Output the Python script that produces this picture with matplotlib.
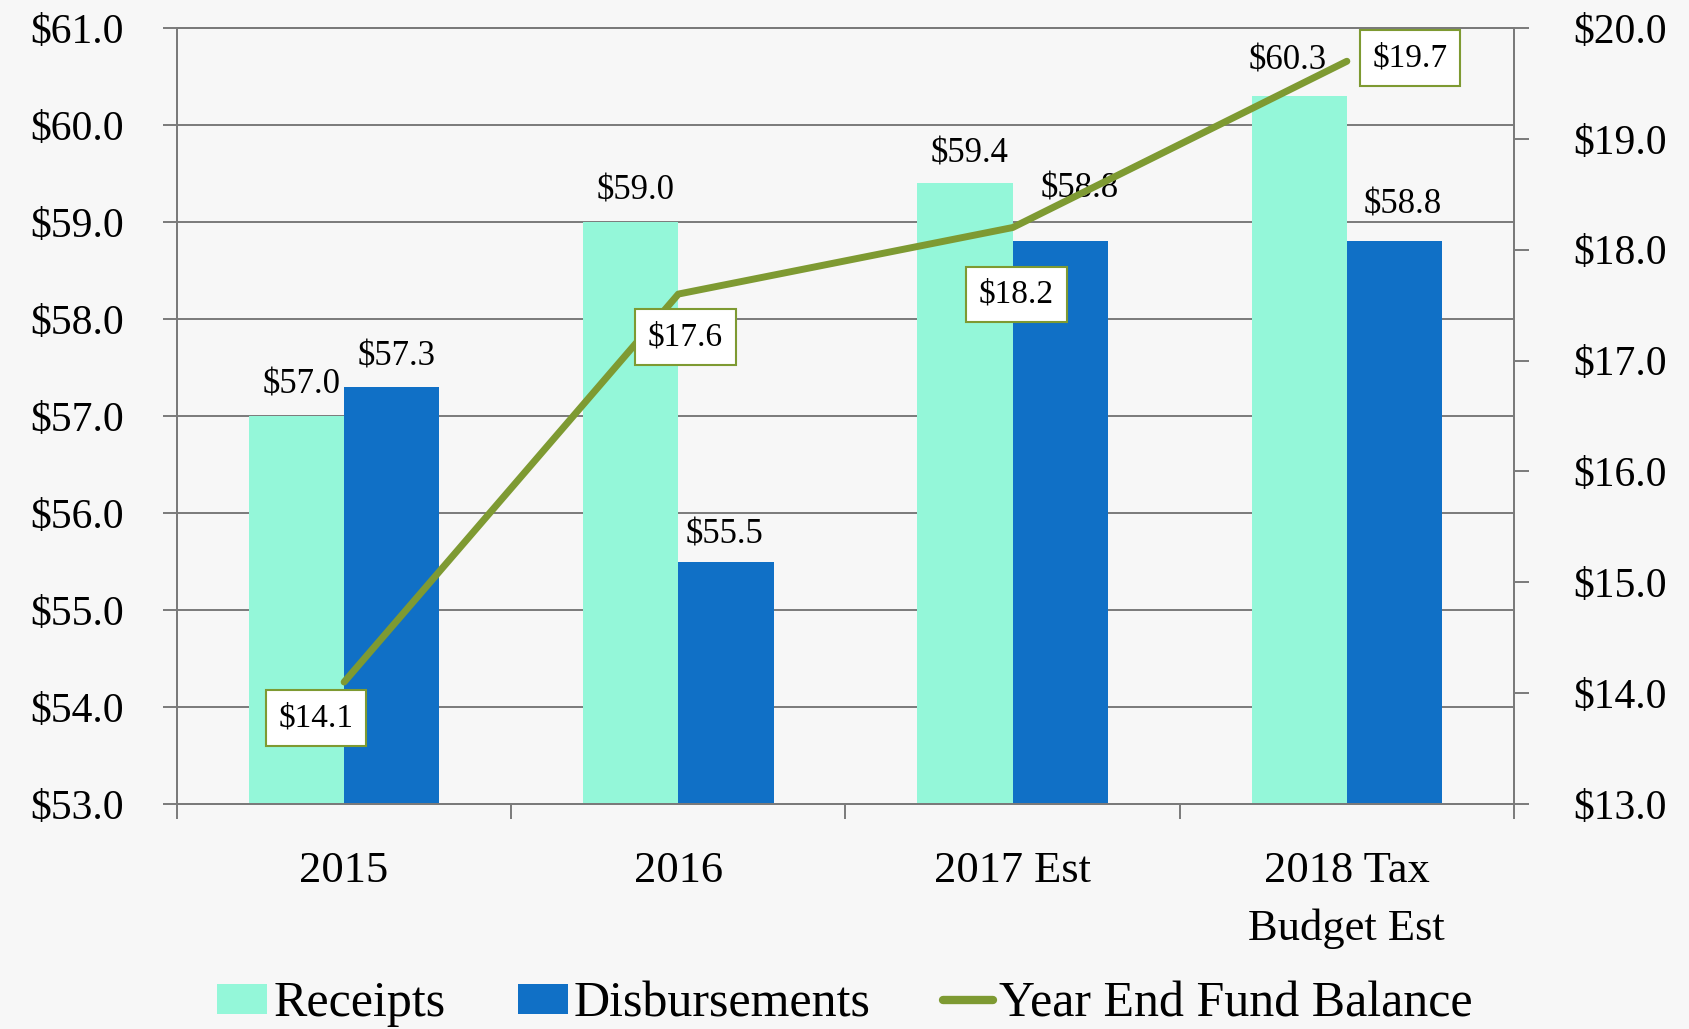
import matplotlib
matplotlib.use("Agg")
import matplotlib.pyplot as plt
import numpy as np

categories = ["2015", "2016", "2017 Est", "2018 Tax\nBudget Est"]
receipts = [57.0, 59.0, 59.4, 60.3]
disbursements = [57.3, 55.5, 58.8, 58.8]
fund_balance = [14.1, 17.6, 18.2, 19.7]
left_ticks = [53.0, 54.0, 55.0, 56.0, 57.0, 58.0, 59.0, 60.0, 61.0]
right_ticks = [13.0, 14.0, 15.0, 16.0, 17.0, 18.0, 19.0, 20.0]

# styles / placements (pixels)
rec_label_off = [(5, 31), (5, 31), (5, 29), (-12, 35)]
dis_label_off = [(5, 30), (-2, 27), (19, 52), (8, 36)]
bal_label_off = [(-28, -36), (7, -43), (4, -67), (63, 3)]

C_REC = "#94F7D9"
C_DIS = "#1070C6"
C_LINE = "#7E9A32"
GRID = "#7a7a7a"
BG = "#f7f7f7"
FONT = "Liberation Serif"

plt.rcParams["font.family"] = [FONT, "DejaVu Serif"]

fig = plt.figure(figsize=(16.9, 10.29), dpi=100, facecolor=BG)
ax = fig.add_axes([177 / 1690, 1 - 804 / 1029, (1514 - 177) / 1690, (804 - 28) / 1029])
ax.set_facecolor("none")
ax2 = ax.twinx()

x = np.arange(len(categories))
bw = 0.285
b1 = ax.bar(x - bw / 2, [r - 53 for r in receipts], bw, bottom=53, color=C_REC, zorder=2, label="Receipts")
b2 = ax.bar(x + bw / 2, [d - 53 for d in disbursements], bw, bottom=53, color=C_DIS, zorder=2, label="Disbursements")

ax.set_xlim(-0.5, len(categories) - 0.5)
ax.set_ylim(53, 61)
ax.set_yticks(left_ticks)
ax.set_yticklabels([f"${v:.1f}" for v in left_ticks], fontsize=30)
ax.yaxis.grid(True, color=GRID, linewidth=1.4, zorder=0)
ax.set_axisbelow(True)
ax.tick_params(axis="y", direction="out", length=10, width=1.4, color=GRID, pad=28)

ax.set_xticks(x)
ax.set_xticklabels(categories, fontsize=32, linespacing=1.55, va="top")
ax.tick_params(axis="x", which="major", length=0, pad=34)
ax.set_xticks(np.arange(-0.5, len(categories)), minor=True)
ax.tick_params(axis="x", which="minor", direction="out", length=11, width=1.4, color=GRID)

for s in ["left", "right", "bottom", "top"]:
    ax.spines[s].set_color(GRID)
    ax.spines[s].set_linewidth(1.4)
    ax2.spines[s].set_color(GRID)
    ax2.spines[s].set_linewidth(1.4)

for i, v in enumerate(receipts):
    ax.annotate(f"${v:.1f}", (x[i] - bw / 2, v), xytext=rec_label_off[i], textcoords="offset pixels",
                ha="center", va="center", fontsize=25, zorder=3)
for i, v in enumerate(disbursements):
    ax.annotate(f"${v:.1f}", (x[i] + bw / 2, v), xytext=dis_label_off[i], textcoords="offset pixels",
                ha="center", va="center", fontsize=25, zorder=3)

ax2.set_ylim(13, 20)
ax2.set_yticks(right_ticks)
ax2.set_yticklabels([f"${v:.1f}" for v in right_ticks], fontsize=30)
ax2.tick_params(axis="y", direction="out", length=11, width=1.4, color=GRID, pad=32)
ln, = ax2.plot(x, fund_balance, color=C_LINE, linewidth=5, solid_capstyle="round",
               solid_joinstyle="round", zorder=5, label="Year End Fund Balance")
for i, v in enumerate(fund_balance):
    ax2.annotate(f"${v:.1f}", (x[i], v), xytext=bal_label_off[i], textcoords="offset pixels",
                 ha="center", va="center", fontsize=24, zorder=6,
                 bbox=dict(boxstyle="square,pad=0.38", fc="white", ec=C_LINE, lw=1.5))

leg = fig.legend(handles=[b1, b2, ln], loc="center", bbox_to_anchor=(0.5, 1 - 1004 / 1029),
                 ncol=3, frameon=False, fontsize=36, handlelength=1.0, handleheight=0.55,
                 handletextpad=0.12, columnspacing=1.45, borderaxespad=0)
for l in leg.get_lines():
    l.set_linewidth(6)

fig.savefig("out.png", dpi=100, facecolor=BG)
